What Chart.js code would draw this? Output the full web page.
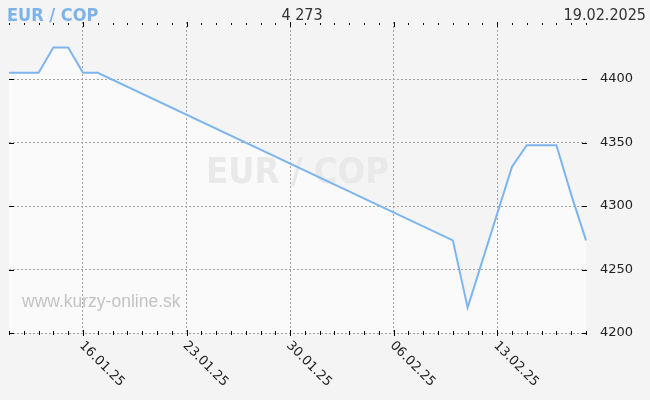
<!DOCTYPE html>
<html>
<head>
<meta charset="utf-8">
<script src="https://cdn.jsdelivr.net/npm/chart.js@4/dist/chart.umd.min.js"></script>
<style>
    html, body { margin: 0; padding: 0; background: #f4f4f4; }
    canvas { display: block; }
</style>
</head>
<body>
<canvas id="rateChart" width="650" height="400"></canvas>
<script>
const pairName = 'EUR / COP';
const lastRate = '4 273';
const lastDate = '19.02.2025';
const siteName = 'www.kurzy-online.sk';

// one label per day, 11.01.25 - 19.02.25
const days = [
    '11.01.25', '12.01.25', '13.01.25', '14.01.25', '15.01.25', '16.01.25', '17.01.25',
    '18.01.25', '19.01.25', '20.01.25', '21.01.25', '22.01.25', '23.01.25', '24.01.25',
    '25.01.25', '26.01.25', '27.01.25', '28.01.25', '29.01.25', '30.01.25', '31.01.25',
    '01.02.25', '02.02.25', '03.02.25', '04.02.25', '05.02.25', '06.02.25', '07.02.25',
    '08.02.25', '09.02.25', '10.02.25', '11.02.25', '12.02.25', '13.02.25', '14.02.25',
    '15.02.25', '16.02.25', '17.02.25', '18.02.25', '19.02.25'
];

// null = no quote that day, the line just goes straight across
const rates = [
    4405, 4405, 4405, 4425, 4425, 4405, 4405,
    null, null, null, null, null, null, null,
    null, null, null, null, null, null, null,
    null, null, null, null, null, null, null,
    null, null, 4273, 4220, null, null, 4331,
    4348, 4348, 4348, 4309, 4273
];

const weekLabels = ['16.01.25', '23.01.25', '30.01.25', '06.02.25', '13.02.25'];
const yTicks = [4200, 4250, 4300, 4350, 4400];

const weekIdx = weekLabels.map(l => days.indexOf(l));

const decoPlugin = {
    id: 'deco',
    beforeDatasetsDraw(chart) {
        const ctx = chart.ctx;
        const area = chart.chartArea;
        ctx.save();
        // big watermark in the middle
        ctx.font = "bold 36px 'DejaVu Sans Condensed', 'DejaVu Sans'";
        ctx.fillStyle = '#e9e9e9';
        ctx.textAlign = 'center';
        ctx.textBaseline = 'alphabetic';
        ctx.fillText(pairName, (area.left + area.right) / 2, 183);
        // site name
        ctx.font = "17.5px 'Liberation Sans'";
        ctx.fillStyle = '#c3c3c3';
        ctx.textAlign = 'left';
        ctx.fillText(siteName, 22, 307);
        ctx.restore();
    },
    afterDraw(chart) {
        const ctx = chart.ctx;
        const area = chart.chartArea;
        const xs = chart.scales.x;
        const ys = chart.scales.y;
        ctx.save();
        ctx.strokeStyle = '#000';
        ctx.lineWidth = 1;
        ctx.beginPath();
        days.forEach((d, i) => {
            const x = Math.round(xs.getPixelForValue(i)) + 0.5;
            const major = weekIdx.includes(i);
            ctx.moveTo(x, major ? area.top : area.top + 1);
            ctx.lineTo(x, major ? area.top + 5 : area.top + 3);
            ctx.moveTo(x, major ? area.bottom - 3 : area.bottom - 2);
            ctx.lineTo(x, major ? area.bottom + 3 : area.bottom + 2);
        });
        yTicks.forEach(v => {
            const y = Math.round(ys.getPixelForValue(v)) + 0.5;
            ctx.moveTo(area.left, y);
            ctx.lineTo(area.left + 5, y);
            ctx.moveTo(area.right - 4, y);
            ctx.lineTo(area.right + 1, y);
        });
        ctx.stroke();

        // rotated date labels
        ctx.fillStyle = '#222';
        ctx.font = "13px 'DejaVu Sans'";
        ctx.textAlign = 'left';
        ctx.textBaseline = 'top';
        weekIdx.forEach(i => {
            const x = xs.getPixelForValue(i);
            ctx.save();
            ctx.translate(x + 3, area.bottom + 6);
            ctx.rotate(Math.PI / 4);
            ctx.fillText(days[i], 0, 0);
            ctx.restore();
        });

        // header
        ctx.textBaseline = 'alphabetic';
        ctx.textAlign = 'left';
        ctx.font = "bold 18px 'DejaVu Sans Condensed', 'DejaVu Sans'";
        ctx.fillStyle = '#7db3e8';
        ctx.fillText(pairName, 7, 21);
        ctx.font = "16px 'DejaVu Sans Condensed', 'DejaVu Sans'";
        ctx.fillStyle = '#333';
        ctx.textAlign = 'center';
        ctx.fillText(lastRate, 302, 20);
        ctx.textAlign = 'right';
        ctx.fillText(lastDate, 646, 20);
        ctx.restore();
    }
};

const ctx = document.getElementById('rateChart');

const rateChart = new Chart(ctx, {
    type: 'line',
    data: {
        labels: days,
        datasets: [{
            label: pairName,
            data: rates,
            borderColor: '#7db5ec',
            borderWidth: 2,
            backgroundColor: '#fafafa',
            fill: 'start',
            pointRadius: 0,
            tension: 0,
            spanGaps: true
        }]
    },
    options: {
        responsive: false,
        animation: false,
        layout: {
            padding: { left: 9, top: 22, right: 0, bottom: 0 }
        },
        plugins: {
            legend: { display: false },
            tooltip: { enabled: false },
            filler: { drawTime: 'beforeDraw' }
        },
        scales: {
            x: {
                type: 'category',
                offset: false,
                ticks: { display: false, autoSkip: false },
                grid: {
                    color: c => weekIdx.includes(c.index) ? '#a3a3a3' : 'rgba(0,0,0,0)',
                    drawTicks: false,
                    lineWidth: 1
                },
                border: { display: false, dash: [2, 2] },
                afterFit: s => { s.height = 67; }
            },
            y: {
                position: 'right',
                min: 4200,
                max: 4445,
                afterBuildTicks: s => { s.ticks = yTicks.map(v => ({ value: v })); },
                ticks: {
                    padding: 14,
                    color: '#222',
                    font: { family: 'DejaVu Sans', size: 13 },
                    callback: v => String(v)
                },
                grid: { color: '#a3a3a3', drawTicks: false, lineWidth: 1 },
                border: { display: false, dash: [2, 2] },
                afterFit: s => { s.width = 64; }
            }
        }
    },
    plugins: [decoPlugin]
});
</script>
</body>
</html>
